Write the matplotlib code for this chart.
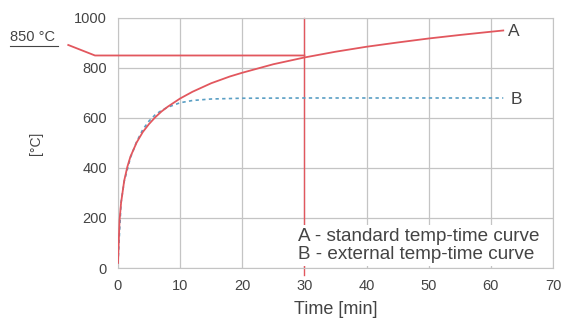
import matplotlib.pyplot as plt

plt.rcParams["font.family"] = ['Liberation Sans', 'DejaVu Sans']

# curve A - standard temp-time curve
time_a = [0, 0.25, 0.5, 1, 1.5, 2, 3, 4, 5, 6, 7, 8, 10, 12, 15, 18, 20, 25, 30, 35, 40, 45, 50, 55, 60, 62]
temp_a = [20, 190, 261, 349, 404, 445, 502, 544, 576, 603, 626, 645, 678, 705, 739, 766, 781, 815, 842, 865, 885, 902, 918, 932, 945, 950]

# curve B - external temp-time curve
time_b = [0, 0.5, 1, 2, 3, 4, 5, 6, 7, 8, 10, 12, 15, 20, 30, 40, 50, 62]
temp_b = [20, 263, 346, 441, 505, 554, 588, 613, 630, 643, 661, 670, 676, 679, 680, 680, 680, 680]

# 850 °C reference line and 30 min marker
ref_x = [-8, -3.7, 30]
ref_y = [892, 850, 850]
t_mark = 30

red = '#e2575e'
blue = '#5a9fc4'
grey = '#c4c4c4'
txt = '#444444'

fig = plt.figure(figsize=(5.61, 3.2), dpi=100)
ax = fig.add_axes([0.2103, 0.1625, 0.7754, 0.7813])

ax.plot(time_b, temp_b, color=blue, lw=1.2, ls=(0, (2, 2)), zorder=3)
ax.plot(time_a, temp_a, color=red, lw=1.3, zorder=4)
ax.plot(ref_x, ref_y, color=red, lw=1.3, clip_on=False, zorder=4)
ax.plot([t_mark, t_mark], [1000, -28], color=red, lw=1.0, clip_on=False, zorder=2)

ax.set_xlim(0, 70)
ax.set_ylim(0, 1000)
ax.set_xticks(range(0, 71, 10))
ax.set_yticks(range(0, 1001, 200))
ax.grid(True, color=grey, lw=0.9)
ax.set_axisbelow(True)
for s in ax.spines.values():
    s.set_color(grey)
ax.tick_params(length=0, labelsize=10.5, labelcolor=txt, pad=8)

ax.set_xlabel('Time [min]', fontsize=13, color=txt, labelpad=6)
ax.set_ylabel('[°C]', fontsize=10, color=txt, labelpad=22)

ax.text(62.8, 945, 'A', fontsize=12.5, color=txt, va='center')
ax.text(63.2, 675, 'B', fontsize=12.5, color=txt, va='center')

ax.text(-17.4, 922, '850 °C', fontsize=10.5, color=txt, va='center', clip_on=False)
ax.plot([-17.3, -9.6], [888, 888], color=txt, lw=0.8, clip_on=False)

ax.text(29, 90, 'A - standard temp-time curve\nB - external temp-time curve',
        fontsize=13.6, color=txt, va='center', ha='left', linespacing=1.05,
        bbox=dict(facecolor='white', edgecolor='none', pad=2), zorder=5)

fig.savefig('out.png', dpi=100)
